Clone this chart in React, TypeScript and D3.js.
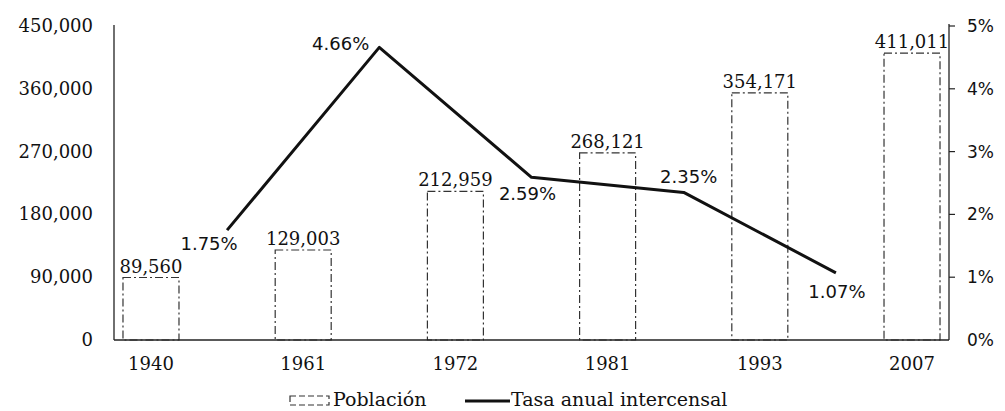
import React from 'react';
import * as d3 from 'd3';

const years = ['1940', '1961', '1972', '1981', '1993', '2007'];
const population = [89560, 129003, 212959, 268121, 354171, 411011];
const rates = [1.75, 4.66, 2.59, 2.35, 1.07];
const popTicks = [0, 90000, 180000, 270000, 360000, 450000];
const rateTicks = [0, 1, 2, 3, 4, 5];

// where each rate label sits relative to its point
const rateLabelPos = [
  { dx: -18, dy: 20, anchor: 'middle' },
  { dx: -10, dy: 3, anchor: 'end' },
  { dx: -4, dy: 23, anchor: 'middle' },
  { dx: 5, dy: -9, anchor: 'middle' },
  { dx: 1, dy: 25, anchor: 'middle' },
];

const W = 1005;
const H = 411;
const left = 114;
const right = 949;
const top = 26;
const bottom = 340;

const serif = "'DejaVu Serif', serif";
const sans = "'DejaVu Sans', sans-serif";

const App = () => {
  const x = d3.scalePoint<string>().domain(years).range([left, right]).padding(0.243);
  const yPop = d3.scaleLinear().domain([0, 450000]).range([bottom, top]);
  const yRate = d3.scaleLinear().domain([0, 5]).range([bottom, top]);
  const barW = 56;
  const fmt = d3.format(',');

  // the rate points sit halfway between census years
  const ratePts: [number, number][] = rates.map((r, i) => [
    ((x(years[i]) as number) + (x(years[i + 1]) as number)) / 2,
    yRate(r),
  ]);
  const path = d3.line()(ratePts) || '';

  const barDash = '8,3,2,3';

  return (
    <svg width={W} height={H} style={{ position: 'absolute', left: 0, top: 0, background: '#fff' }}>
      {/* bars */}
      {population.map((p, i) => {
        const cx = x(years[i]) as number;
        return (
          <g key={years[i]}>
            <rect
              x={cx - barW / 2}
              y={yPop(p)}
              width={barW}
              height={bottom - yPop(p)}
              fill="#fff"
              stroke="#333"
              strokeWidth={1.2}
              strokeDasharray={barDash}
            />
            <text x={cx} y={yPop(p) - 5} textAnchor="middle" fontFamily={serif} fontSize={18} fill="#111">
              {fmt(p)}
            </text>
          </g>
        );
      })}

      {/* axes */}
      <line x1={left} x2={left} y1={top - 1} y2={bottom} stroke="#222" strokeWidth={1.3} />
      <line x1={right} x2={right} y1={top - 2} y2={bottom} stroke="#222" strokeWidth={1.3} />
      <line x1={left} x2={right} y1={bottom} y2={bottom} stroke="#222" strokeWidth={1.3} />
      {popTicks.map((t) => (
        <text key={t} x={93} y={yPop(t) + 6} textAnchor="end" fontFamily={serif} fontSize={18} fill="#111">
          {fmt(t)}
        </text>
      ))}
      {rateTicks.map((t) => (
        <g key={t}>
          {t > 0 && <line x1={right} x2={right + 6} y1={yRate(t)} y2={yRate(t)} stroke="#222" strokeWidth={1.2} />}
          <text x={967} y={yRate(t) + 6} fontFamily={sans} fontSize={17} fill="#111">
            {t + '%'}
          </text>
        </g>
      ))}
      {years.map((yr) => (
        <text key={yr} x={x(yr) as number} y={370} textAnchor="middle" fontFamily={serif} fontSize={18} fill="#111">
          {yr}
        </text>
      ))}

      {/* rate line */}
      <path d={path} fill="none" stroke="#111" strokeWidth={3} strokeLinejoin="round" />
      {rates.map((r, i) => (
        <text
          key={i}
          x={ratePts[i][0] + rateLabelPos[i].dx}
          y={ratePts[i][1] + rateLabelPos[i].dy}
          textAnchor={rateLabelPos[i].anchor as any}
          fontFamily={sans}
          fontSize={18}
          fill="#111"
        >
          {r.toFixed(2) + '%'}
        </text>
      ))}

      {/* legend */}
      <rect x={290} y={396} width={39} height={9} fill="#fff" stroke="#333" strokeWidth={1.2} strokeDasharray="6,3" />
      <text x={333} y={406} fontFamily={serif} fontSize={19} fill="#111">Población</text>
      <line x1={465} x2={510} y1={401} y2={401} stroke="#111" strokeWidth={3} />
      <text x={511} y={406} fontFamily={serif} fontSize={19} fill="#111">Tasa anual intercensal</text>
    </svg>
  );
};

export default App;
